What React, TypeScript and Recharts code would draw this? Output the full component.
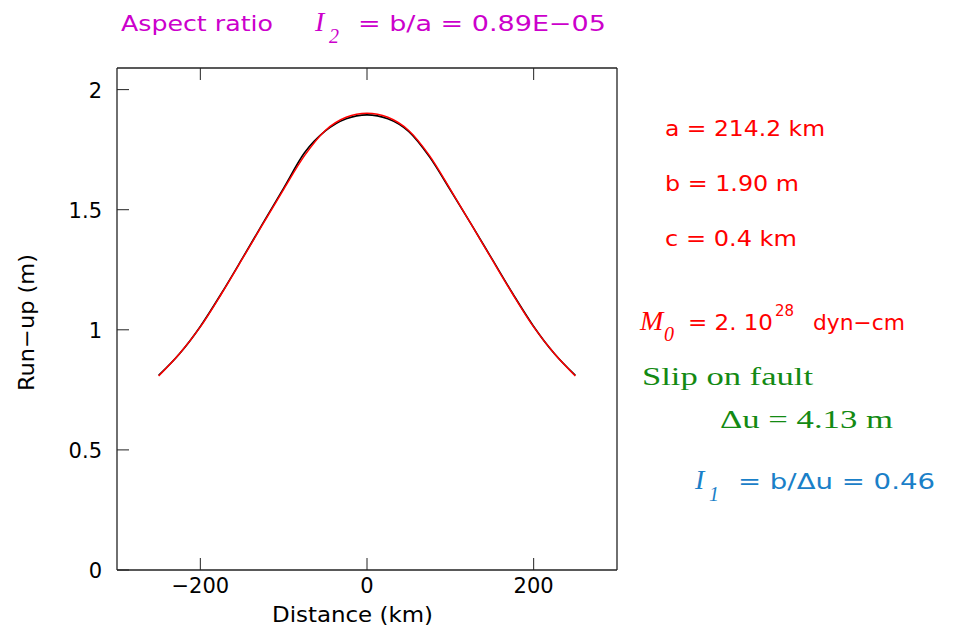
import { LineChart, Line, XAxis, YAxis } from "recharts";

const distance = [
  -250, -225, -200, -175, -150, -125, -100, -75, -50, -25, 0, 25, 50, 75, 100,
  125, 150, 175, 200, 225, 250,
];
// computed run-up (black)
const runupComputed = [
  0.81, 0.9, 1.014, 1.15, 1.295, 1.443, 1.59, 1.737, 1.828, 1.879, 1.895,
  1.879, 1.826, 1.72, 1.582, 1.44, 1.295, 1.15, 1.014, 0.9, 0.81,
];
// fitted curve (red)
const runupFit = [
  0.808, 0.9, 1.012, 1.148, 1.293, 1.44, 1.585, 1.725, 1.83, 1.885, 1.902,
  1.885, 1.83, 1.725, 1.585, 1.44, 1.293, 1.148, 1.012, 0.9, 0.808,
];
const xTicks = [-200, 0, 200];
const yTicks = [0, 0.5, 1, 1.5, 2];

const data = distance.map((d, i) => ({
  x: d,
  computed: runupComputed[i],
  fit: runupFit[i],
}));

const SANS = "DejaVu Sans";
const SERIF = "Liberation Serif";
const TICK = 12;
const AXIS = "#222";

const minus = (v: number) => (v < 0 ? "\u2212" + Math.abs(v) : String(v));

const BottomTick = (props: any) => {
  const { x, y, payload } = props;
  return (
    <g>
      <line x1={x} x2={x} y1={y} y2={y - TICK} stroke={AXIS} />
      <text x={x} y={y + 23} textAnchor="middle" fontSize={21} fontFamily={SANS} fill="#000">
        {minus(payload.value)}
      </text>
    </g>
  );
};

const TopTick = (props: any) => {
  const { x, y } = props;
  return <line x1={x} x2={x} y1={y} y2={y + TICK} stroke={AXIS} />;
};

const LeftTick = (props: any) => {
  const { x, y, payload } = props;
  return (
    <g>
      <line x1={x} x2={x + TICK} y1={y} y2={y} stroke={AXIS} />
      <text x={x - 15} y={y + 8} textAnchor="end" fontSize={21} fontFamily={SANS} fill="#000">
        {payload.value}
      </text>
    </g>
  );
};

const RightTick = (props: any) => {
  const { x, y } = props;
  return <line x1={x} x2={x - TICK} y1={y} y2={y} stroke={AXIS} />;
};

const MAGENTA = "#cc00cc";
const RED = "#ff0000";
const GREEN = "#138a13";
const BLUE = "#1a80c8";

export default function App() {
  return (
    <div style={{ position: "relative", width: 953, height: 629, background: "#fff" }}>
      <style>{"body{margin:0}"}</style>
      <LineChart
        width={953}
        height={629}
        data={data}
        margin={{ top: 67, right: 335, bottom: 0, left: 0 }}
      >
        <XAxis
          xAxisId="bottom"
          dataKey="x"
          type="number"
          domain={[-300, 300]}
          ticks={xTicks}
          interval={0}
          height={59}
          tickSize={0}
          tickMargin={0}
          tick={<BottomTick />}
          axisLine={{ stroke: AXIS, strokeWidth: 1.3 }}
        />
        <XAxis
          xAxisId="top"
          orientation="top"
          dataKey="x"
          type="number"
          domain={[-300, 300]}
          ticks={xTicks}
          interval={0}
          height={1}
          tickSize={0}
          tickMargin={0}
          tick={<TopTick />}
          axisLine={{ stroke: AXIS, strokeWidth: 1.3 }}
        />
        <YAxis
          yAxisId="left"
          type="number"
          domain={[0, 2.09]}
          ticks={yTicks}
          interval={0}
          width={117}
          tickSize={0}
          tickMargin={0}
          tick={<LeftTick />}
          axisLine={{ stroke: AXIS, strokeWidth: 1.3 }}
        />
        <YAxis
          yAxisId="right"
          orientation="right"
          type="number"
          domain={[0, 2.09]}
          ticks={yTicks}
          interval={0}
          width={1}
          tickSize={0}
          tickMargin={0}
          tick={<RightTick />}
          axisLine={{ stroke: AXIS, strokeWidth: 1.3 }}
        />
        <Line
          xAxisId="bottom"
          yAxisId="left"
          type="monotone"
          dataKey="computed"
          stroke="#000"
          strokeWidth={1.6}
          dot={false}
          isAnimationActive={false}
        />
        <Line
          xAxisId="bottom"
          yAxisId="left"
          type="monotone"
          dataKey="fit"
          stroke={RED}
          strokeWidth={1.5}
          dot={false}
          isAnimationActive={false}
        />
      </LineChart>

      <svg
        width={953}
        height={629}
        style={{ position: "absolute", left: 0, top: 0, pointerEvents: "none" }}
      >
        {/* axis labels */}
        <text x={272} y={622} fontSize={21} fontFamily={SANS} textLength={161} lengthAdjust="spacingAndGlyphs">
          Distance (km)
        </text>
        <text
          transform="translate(34 323) rotate(-90)"
          x={-68}
          fontSize={21}
          fontFamily={SANS}
          textLength={137}
          lengthAdjust="spacingAndGlyphs"
        >
          Run{"\u2212"}up (m)
        </text>

        {/* title */}
        <g fill={MAGENTA}>
          <text x={121} y={31} fontSize={21} fontFamily={SANS} textLength={152} lengthAdjust="spacingAndGlyphs">
            Aspect ratio
          </text>
          <text x={315} y={31} fontSize={28} fontFamily={SERIF} fontStyle="italic">I</text>
          <text x={329} y={43} fontSize={20} fontFamily={SERIF} fontStyle="italic">2</text>
          <text x={358} y={31} fontSize={21} fontFamily={SANS} textLength={248} lengthAdjust="spacingAndGlyphs">
            = b/a = 0.89E{"\u2212"}05
          </text>
        </g>

        {/* parameters */}
        <g fill={RED} fontFamily={SANS} fontSize={21}>
          <text x={665} y={136} textLength={160} lengthAdjust="spacingAndGlyphs">a = 214.2 km</text>
          <text x={665} y={191} textLength={134} lengthAdjust="spacingAndGlyphs">b = 1.90 m</text>
          <text x={665} y={246} textLength={132} lengthAdjust="spacingAndGlyphs">c = 0.4 km</text>
          <text x={640} y={330} fontSize={28} fontFamily={SERIF} fontStyle="italic">M</text>
          <text x={664} y={341} fontSize={20} fontFamily={SERIF} fontStyle="italic">0</text>
          <text x={688} y={330} textLength={85} lengthAdjust="spacingAndGlyphs">= 2. 10</text>
          <text x={775} y={316} fontSize={15}>28</text>
          <text x={813} y={330} textLength={92} lengthAdjust="spacingAndGlyphs">dyn{"\u2212"}cm</text>
        </g>

        <g fill={GREEN} fontFamily={SERIF} fontSize={25}>
          <text x={642} y={385} textLength={171} lengthAdjust="spacingAndGlyphs">Slip on fault</text>
          <text x={720} y={428} textLength={173} lengthAdjust="spacingAndGlyphs">{"\u0394"}u = 4.13 m</text>
        </g>

        <g fill={BLUE}>
          <text x={695} y={489} fontSize={28} fontFamily={SERIF} fontStyle="italic">I</text>
          <text x={709} y={501} fontSize={20} fontFamily={SERIF} fontStyle="italic">1</text>
          <text x={738} y={489} fontSize={21} fontFamily={SANS} textLength={197} lengthAdjust="spacingAndGlyphs">
            = b/{"\u0394"}u = 0.46
          </text>
        </g>
      </svg>
    </div>
  );
}
